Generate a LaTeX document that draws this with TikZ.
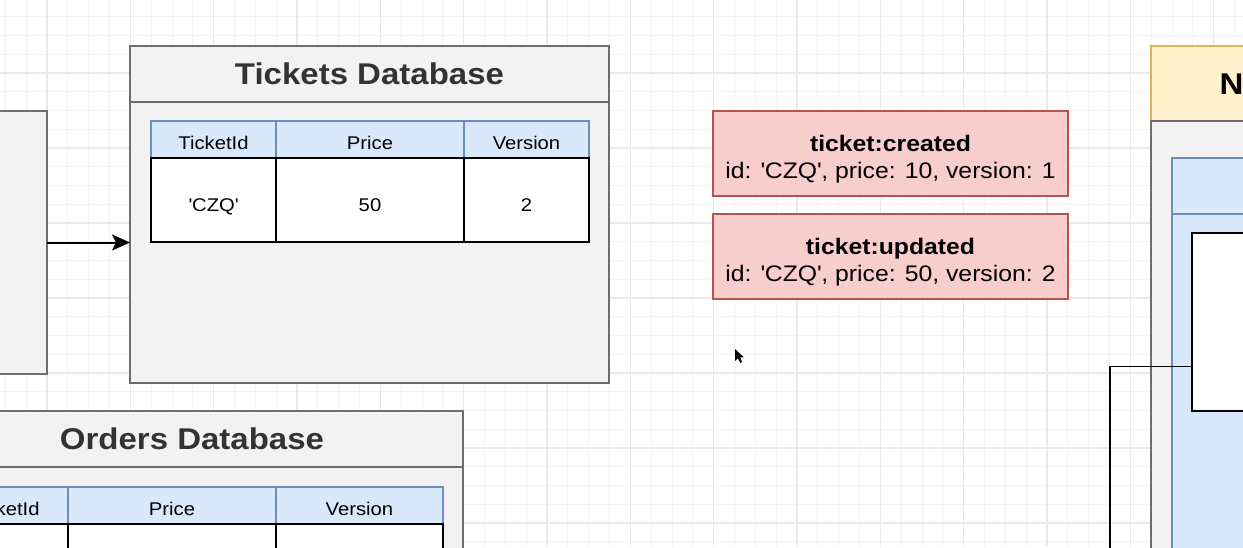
\documentclass[tikz,border=0pt]{standalone}
\usepackage{fontspec}
\setmainfont{Liberation Sans}[FakeStretch=1.1]
\usetikzlibrary{arrows.meta,calc}

\definecolor{gridminor}{HTML}{F4F4F4}
\definecolor{gridmajor}{HTML}{EAEAEA}
\definecolor{dbfill}{HTML}{F2F2F2}
\definecolor{dbline}{HTML}{6E6E6E}
\definecolor{titletext}{HTML}{333333}
\definecolor{colfill}{HTML}{DAE8FC}
\definecolor{colline}{HTML}{6C8EBF}
\definecolor{evfill}{HTML}{F8CECC}
\definecolor{evline}{HTML}{B85450}
\definecolor{svcfill}{HTML}{FFF2CC}
\definecolor{svcline}{HTML}{D6B656}

\newcommand{\sq}{\textquotesingle}

\tikzset{
  % size of a box, in picture units
  wh/.style 2 args={minimum width=#1pt, minimum height=#2pt},
  box/.style={rectangle, inner sep=0pt, outer sep=0pt, anchor=north west},
  dbpart/.style={box, fill=dbfill, draw=dbline, line width=2pt},
  dbtitle/.style={font=\fontsize{30}{34}\selectfont\bfseries, text=titletext},
  colhead/.style={box, fill=colfill, draw=colline, line width=2pt,
    font=\fontsize{18.4}{22}\selectfont, text height=20pt, text depth=0pt},
  cell/.style={box, fill=white, draw=black, line width=2pt,
    font=\fontsize{18.4}{22}\selectfont, text height=23pt, text depth=0pt},
  eventbox/.style={box, fill=evfill, draw=evline, line width=2pt},
  evtitle/.style={anchor=base, font=\fontsize{22.5}{27}\selectfont\bfseries},
  evbody/.style={anchor=base, font=\fontsize{22.5}{27}\selectfont},
  svchead/.style={box, fill=svcfill, draw=svcline, line width=2pt},
  flow/.style={draw=black, line width=2pt,
    -{Stealth[length=18pt,width=16pt,inset=4pt]}},
  wire/.style={draw=black, line width=1.6pt},
}

\begin{document}
\begin{tikzpicture}[x=1pt,y=-1pt]
\useasboundingbox (0,0) rectangle (1243,547);
\clip (0,0) rectangle (1243,547);

% canvas and grid
\fill[white] (0,0) rectangle (1243,547);
\foreach \i in {-3,...,58}
  \draw[gridminor, line width=1pt] ({47+\i*20.8333},0) -- ++(0,547);
\foreach \j in {-4,...,26}
  \draw[gridminor, line width=1pt] (0,{73+\j*18.75}) -- ++(1243,0);
\foreach \i in {-1,...,14}
  \draw[gridmajor, line width=1.3pt] ({47+\i*83.3333},0) -- ++(0,547);
\foreach \j in {-1,...,6}
  \draw[gridmajor, line width=1.3pt] (0,{73+\j*75}) -- ++(1243,0);

% service box on the left
\node[dbpart, wh={67}{263}] (lsvc) at (-20,111) {};

% Tickets Database
\node[dbpart, wh={479}{56}] (tdbhead) at (130,46) {};
\node[dbtitle] (tdbtitle) at (tdbhead.center) {Tickets Database};
\node[dbpart, wh={479}{281}] (tdb) at (130,102) {};
\node[colhead, wh={125}{37}] (th1) at (151,121) {TicketId};
\node[colhead, wh={188}{37}] (th2) at (276,121) {Price};
\node[colhead, wh={125}{37}] (th3) at (464,121) {Version};
\node[cell, wh={125}{84}] (td1) at (151,158) {\sq CZQ\sq};
\node[cell, wh={188}{84}] (td2) at (276,158) {50};
\node[cell, wh={125}{84}] (td3) at (464,158) {2};

\draw[flow] (lsvc.east) -- (lsvc.east -| tdb.west);

% Orders Database
\node[dbpart, wh={542}{56}] (odbhead) at (-79,411) {};
\node[dbtitle] (odbtitle) at (odbhead.center) {Orders Database};
\node[dbpart, wh={542}{120}] (odb) at (-79,467) {};
\node[colhead, wh={127}{37}] (oh1) at (-59,487) {TicketId};
\node[colhead, wh={208}{37}] (oh2) at (68,487) {Price};
\node[colhead, wh={167}{37}] (oh3) at (276,487) {Version};
\node[cell, wh={127}{60}] (od1) at (-59,524) {};
\node[cell, wh={208}{60}] (od2) at (68,524) {};
\node[cell, wh={167}{60}] (od3) at (276,524) {};

% events
\node[eventbox, wh={355}{85}] (evc) at (713,111) {};
\node[evtitle] (evctitle) at ($(evc.north)+(0,40)$) {ticket:created};
\node[evbody] (evcbody) at ($(evc.north)+(0,67)$) {id: \sq CZQ\sq, price: 10, version: 1};
\node[eventbox, wh={355}{85}] (evu) at (713,214) {};
\node[evtitle] (evutitle) at ($(evu.north)+(0,40)$) {ticket:updated};
\node[evbody] (evubody) at ($(evu.north)+(0,67)$) {id: \sq CZQ\sq, price: 50, version: 2};

% service on the right
\node[svchead, wh={200}{75}] (rsvchead) at (1151,46) {};
\node[anchor=base west, font=\fontsize{30}{34}\selectfont\bfseries] (rsvctitle)
  at ($(rsvchead.north west)+(65,48)$) {N};
\node[dbpart, wh={200}{480}] (rsvc) at (1151,121) {};
\node[colhead, wh={180}{56}] (rdbhead) at (1172,158) {};
\node[colhead, wh={180}{400}] (rdb) at (1172,214) {};
\node[cell, wh={160}{178}] (rcell) at (1192,233) {};

\coordinate (tap) at ($(rcell.north west)!0.75!(rcell.south west)$);
\coordinate (wireend) at (1110,560);
\draw[wire] (tap) -| (wireend);

% pointer
\fill[black] (735,349) -- (735,361) -- (738,358.2) -- (740.2,363) -- (742.2,362)
  -- (740,357.4) -- (743.8,357.2) -- cycle;
\end{tikzpicture}
\end{document}
